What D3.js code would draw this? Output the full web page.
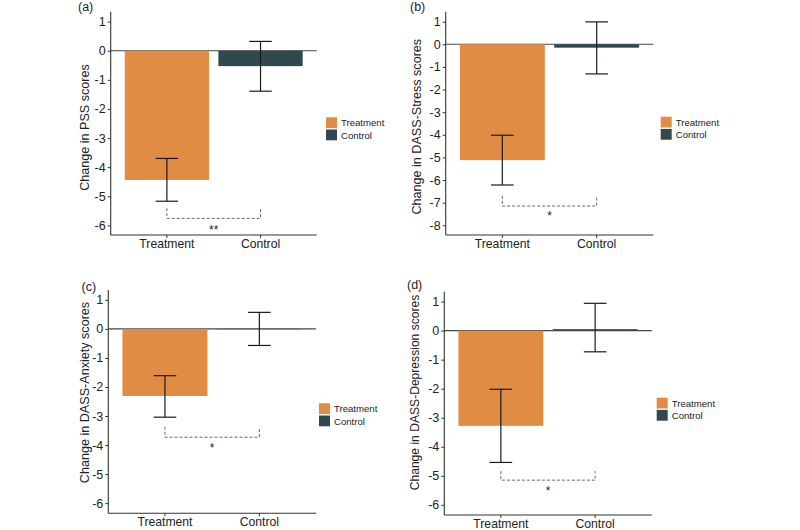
<!DOCTYPE html>
<html>
<head>
<meta charset="utf-8">
<script src="https://cdn.jsdelivr.net/npm/d3@7"></script>
<style>
  html, body { margin: 0; padding: 0; background: #fff; }
  svg { display: block; font-family: "Liberation Sans", Arial, sans-serif; }
</style>
</head>
<body>
<svg id="chart" width="800" height="530"></svg>
<script>
// ---- data ----
const panelLabels = ["(a)", "(b)", "(c)", "(d)"];
const yTitles = ["Change in PSS scores", "Change in DASS-Stress scores", "Change in DASS-Anxiety scores", "Change in DASS-Depression scores"];
const categories = ["Treatment", "Control"];
const treatmentMeans = [-4.44, -5.12, -2.31, -3.28];
const controlMeans   = [-0.53, -0.15, -0.01, 0.05];
const treatmentLower = [-5.17, -6.22, -3.04, -4.54];
const treatmentUpper = [-3.70, -4.02, -1.61, -2.02];
const controlLower   = [-1.39, -1.31, -0.57, -0.73];
const controlUpper   = [0.32, 0.99, 0.57, 0.94];
const bracketY       = [-5.76, -7.15, -3.73, -5.15];
const bracketLegTop  = [-5.41, -6.70, -3.37, -4.84];
const starY          = [-6.05, -7.46, -4.00, -5.42];
const sigLabels      = ["**", "*", "*", "*"];
const yTicks = [
  [1, 0, -1, -2, -3, -4, -5, -6],
  [1, 0, -1, -2, -3, -4, -5, -6, -7, -8],
  [1, 0, -1, -2, -3, -4, -5, -6],
  [1, 0, -1, -2, -3, -4, -5, -6]
];
const yDomains = [[-6.33, 1.34], [-8.43, 1.44], [-6.35, 1.34], [-6.35, 1.34]];
const legendLabels = ["Treatment", "Control"];
const colors = { Treatment: "#E08C45", Control: "#30494F" };

// ---- layout ----
const layout = [
  { x0: 110.7, x1: 316.7, yTop: 11.7, yBot: 235,   legX: 326,   legY: 117.3, titleX: 85,    titleY: 127.5, titleFs: 12.6, labX: 78,   labY: 7 },
  { x0: 445.7, x1: 653.3, yTop: 11.7, yBot: 235,   legX: 660.7, legY: 116.7, titleX: 416.7, titleY: 126.7, titleFs: 12.6, labX: 410,  labY: 7 },
  { x0: 108.3, x1: 316,   yTop: 290,  yBot: 513.3, legX: 319,   legY: 403.3, titleX: 85,    titleY: 392.5, titleFs: 12.6, labX: 81.5, labY: 286.5 },
  { x0: 444.3, x1: 651.7, yTop: 291.7, yBot: 515,  legX: 656.7, legY: 397.7, titleX: 415,   titleY: 392.5, titleFs: 12.1, labX: 407,  labY: 285 }
];

const svg = d3.select("#chart");

layout.forEach((L, i) => {
  const g = svg.append("g");
  const x = d3.scaleBand().domain(categories).range([L.x0, L.x1]).paddingInner(0.1).paddingOuter(0.15);
  const y = d3.scaleLinear().domain(yDomains[i]).range([L.yBot, L.yTop]);
  const step = x.step();

  const rows = [
    { cat: "Treatment", mean: treatmentMeans[i], lo: treatmentLower[i], hi: treatmentUpper[i] },
    { cat: "Control",   mean: controlMeans[i],   lo: controlLower[i],   hi: controlUpper[i] }
  ];

  // zero line
  g.append("line")
    .attr("x1", L.x0).attr("x2", L.x1)
    .attr("y1", y(0)).attr("y2", y(0))
    .attr("stroke", "#444").attr("stroke-width", 1.1);

  // bars
  g.selectAll("rect.bar").data(rows).enter().append("rect")
    .attr("class", "bar")
    .attr("x", d => x(d.cat))
    .attr("width", x.bandwidth())
    .attr("y", d => Math.min(y(d.mean), y(0)))
    .attr("height", d => Math.abs(y(d.mean) - y(0)))
    .attr("fill", d => colors[d.cat]);

  // error bars
  const capW = step * 0.24;
  rows.forEach(d => {
    const cx = x(d.cat) + x.bandwidth() / 2;
    const eg = g.append("g").attr("stroke", "#1a1a1a").attr("stroke-width", 1.2);
    eg.append("line").attr("x1", cx).attr("x2", cx).attr("y1", y(d.hi)).attr("y2", y(d.lo));
    eg.append("line").attr("x1", cx - capW / 2).attr("x2", cx + capW / 2).attr("y1", y(d.hi)).attr("y2", y(d.hi));
    eg.append("line").attr("x1", cx - capW / 2).attr("x2", cx + capW / 2).attr("y1", y(d.lo)).attr("y2", y(d.lo));
  });

  // significance bracket
  const cxT = x("Treatment") + x.bandwidth() / 2;
  const cxC = x("Control") + x.bandwidth() / 2;
  const by = y(bracketY[i]), bt = y(bracketLegTop[i]);
  g.append("path")
    .attr("d", `M${cxT},${bt}L${cxT},${by}L${cxC},${by}L${cxC},${bt}`)
    .attr("fill", "none").attr("stroke", "#666").attr("stroke-width", 1)
    .attr("stroke-dasharray", "3,2");
  g.append("text")
    .attr("x", (cxT + cxC) / 2)
    .attr("y", y(starY[i]) + 7)
    .attr("text-anchor", "middle")
    .attr("font-size", 12).attr("fill", "#222")
    .text(sigLabels[i]);

  // axes
  const yAxis = d3.axisLeft(y).tickValues(yTicks[i]).tickSize(3).tickPadding(2).tickFormat(d => String(d));
  const ya = g.append("g").attr("transform", `translate(${L.x0},0)`).call(yAxis);
  const xAxis = d3.axisBottom(x).tickSize(3).tickPadding(1.5);
  const xa = g.append("g").attr("transform", `translate(0,${L.yBot})`).call(xAxis);
  [ya, xa].forEach(a => {
    a.select(".domain").remove();
    a.selectAll(".tick line").attr("stroke", "#333");
    a.selectAll(".tick text").attr("fill", "#222").attr("font-size", 12.5)
      .attr("font-family", "'Liberation Sans', Arial, sans-serif");
  });
  xa.selectAll(".tick text").attr("font-size", 12.2);
  // axis lines
  g.append("line").attr("x1", L.x0).attr("x2", L.x0).attr("y1", L.yTop).attr("y2", L.yBot)
    .attr("stroke", "#333").attr("stroke-width", 1.1);
  g.append("line").attr("x1", L.x0).attr("x2", L.x1).attr("y1", L.yBot).attr("y2", L.yBot)
    .attr("stroke", "#333").attr("stroke-width", 1.1);

  // y title
  g.append("text")
    .attr("transform", `translate(${L.titleX},${L.titleY}) rotate(-90)`)
    .attr("text-anchor", "middle")
    .attr("dominant-baseline", "central")
    .attr("font-size", L.titleFs).attr("fill", "#222")
    .text(yTitles[i]);

  // panel label
  g.append("text")
    .attr("x", L.labX).attr("y", L.labY)
    .attr("dominant-baseline", "central")
    .attr("font-size", 12.5).attr("fill", "#222")
    .text(panelLabels[i]);

  // legend
  const lg = g.append("g").attr("transform", `translate(${L.legX},${L.legY})`);
  legendLabels.forEach((lab, k) => {
    lg.append("rect").attr("x", 0).attr("y", k * 12.2).attr("width", 11).attr("height", 10.8)
      .attr("fill", colors[lab]);
    lg.append("text").attr("x", 15).attr("y", k * 12.2 + 5.6)
      .attr("dominant-baseline", "central")
      .attr("font-size", 9.6).attr("fill", "#222")
      .text(lab);
  });
});
</script>
</body>
</html>
